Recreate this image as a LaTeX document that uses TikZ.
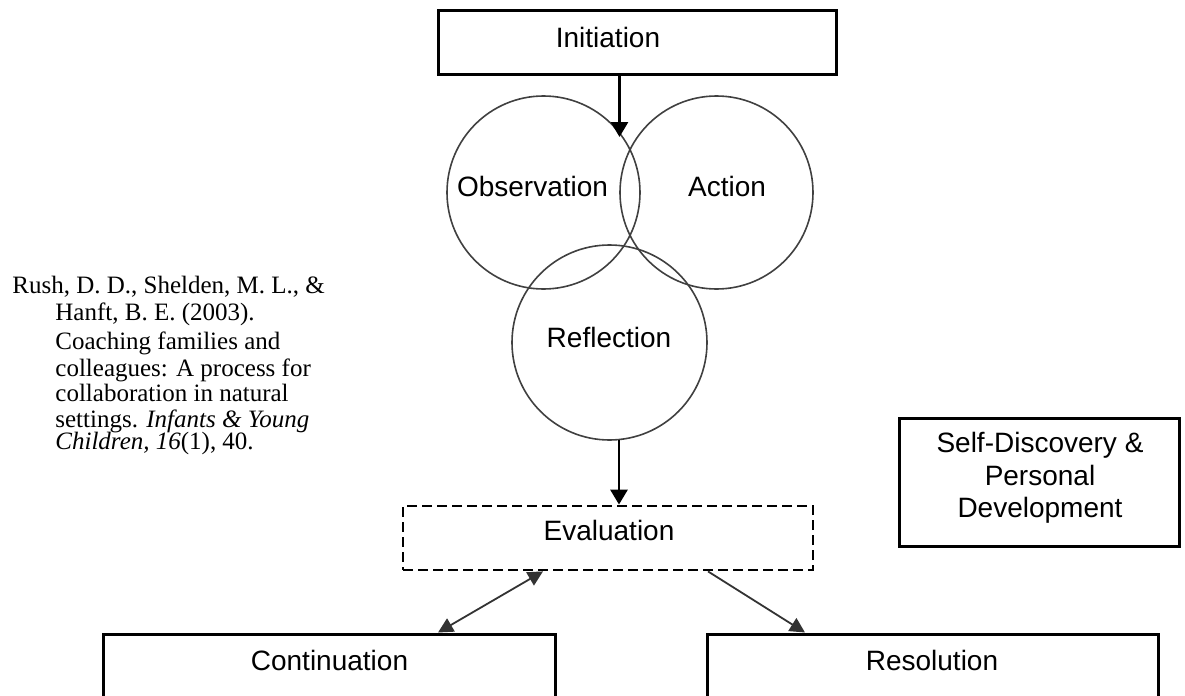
\documentclass[tikz,border=0pt]{standalone}
\usepackage{fontspec}
\setmainfont{Liberation Serif}
\newfontfamily\labelfont{Liberation Sans}
\usetikzlibrary{arrows.meta}
\begin{document}
\begin{tikzpicture}[x=0.5pt,y=-0.5pt,
  box/.style={draw, line width=1.5pt, inner sep=0pt},
  dbox/.style={draw, line width=1.4pt, dash pattern=on 5pt off 2.5pt, inner sep=0pt},
  ring/.style={draw=black!75, line width=0.8pt, circle, inner sep=0pt},
  lbl/.style={font=\labelfont\fontsize{14}{16.25}\selectfont, inner sep=0pt},
  cite/.style={font=\fontsize{12.5}{13}\selectfont, inner sep=0pt, anchor=base west},
  arr/.style={line width=1.4pt, -{Triangle[width=8.5pt,length=7.5pt]}},
  darr/.style={line width=0.9pt, draw=black!80}]
\path[use as bounding box] (0,0) rectangle (1185,696);
\clip (0,0) rectangle (1185,696);

% boxes
\node[box, minimum width=199pt, minimum height=32pt] (init) at (637,42) {};
\node[dbox, minimum width=205pt, minimum height=32pt] (eval) at (608,538) {};
\node[box, minimum width=226pt, minimum height=50pt] (cont) at (329.5,684) {};
\node[box, minimum width=225.5pt, minimum height=50pt] (resol) at (932.5,684) {};
\node[box, minimum width=140.25pt, minimum height=64pt] (self) at (1039.25,482) {};

% circles
\node[ring, minimum size=96.5pt] (obs) at (543.5,192.5) {};
\node[ring, minimum size=96.5pt] (act) at (716.5,192.5) {};
\node[ring, minimum size=97.5pt] (refl) at (609.5,342.5) {};

% labels
\node[lbl, anchor=base] (tinit) at (608,47) {Initiation};
\node[lbl, anchor=base] (tobs) at (532.5,196) {Observation};
\node[lbl, anchor=base] (tact) at (727,196) {Action};
\node[lbl, anchor=base] (trefl) at (609,347) {Reflection};
\node[lbl, anchor=base] (teval) at (609,540) {Evaluation};
\node[lbl, anchor=base] (tcont) at (329.5,670.5) {Continuation};
\node[lbl, anchor=base] (tresol) at (932,670.5) {Resolution};
\node[lbl, align=center] (tself) at (1040,478) {Self-Discovery \&\\Personal\\Development};

% citation
\node[cite] (c1) at (12,293) {Rush, D. D., Shelden, M. L., \&};
\node[cite] (c2) at (55,320) {Hanft, B. E. (2003).};
\node[cite] (c3) at (55,349) {Coaching families and};
\node[cite] (c4) at (55,376) {colleagues: A process for};
\node[cite] (c5) at (55,401) {collaboration in natural};
\node[cite] (c6) at (55,427) {settings. \textit{Infants \& Young}};
\node[cite] (c7) at (55,449) {\textit{Children, 16}(1), 40.};

% connectors
\coordinate (t1) at (619.5,137);
\draw[arr] (init.south -| t1) -- (t1);
\coordinate (r1) at (619,439.5);
\draw[arr] (r1) -- (eval.north -| r1);
\draw[darr, {Triangle[width=7.5pt,length=7.5pt]}-{Triangle[width=7.5pt,length=7.5pt]}]
  ([xshift=-32.5pt]eval.south) -- ([xshift=54.25pt]cont.north);
\draw[darr, -{Triangle[width=7.5pt,length=7.5pt]}]
  ([xshift=50pt]eval.south) -- ([xshift=-63.75pt]resol.north);
\end{tikzpicture}
\end{document}
